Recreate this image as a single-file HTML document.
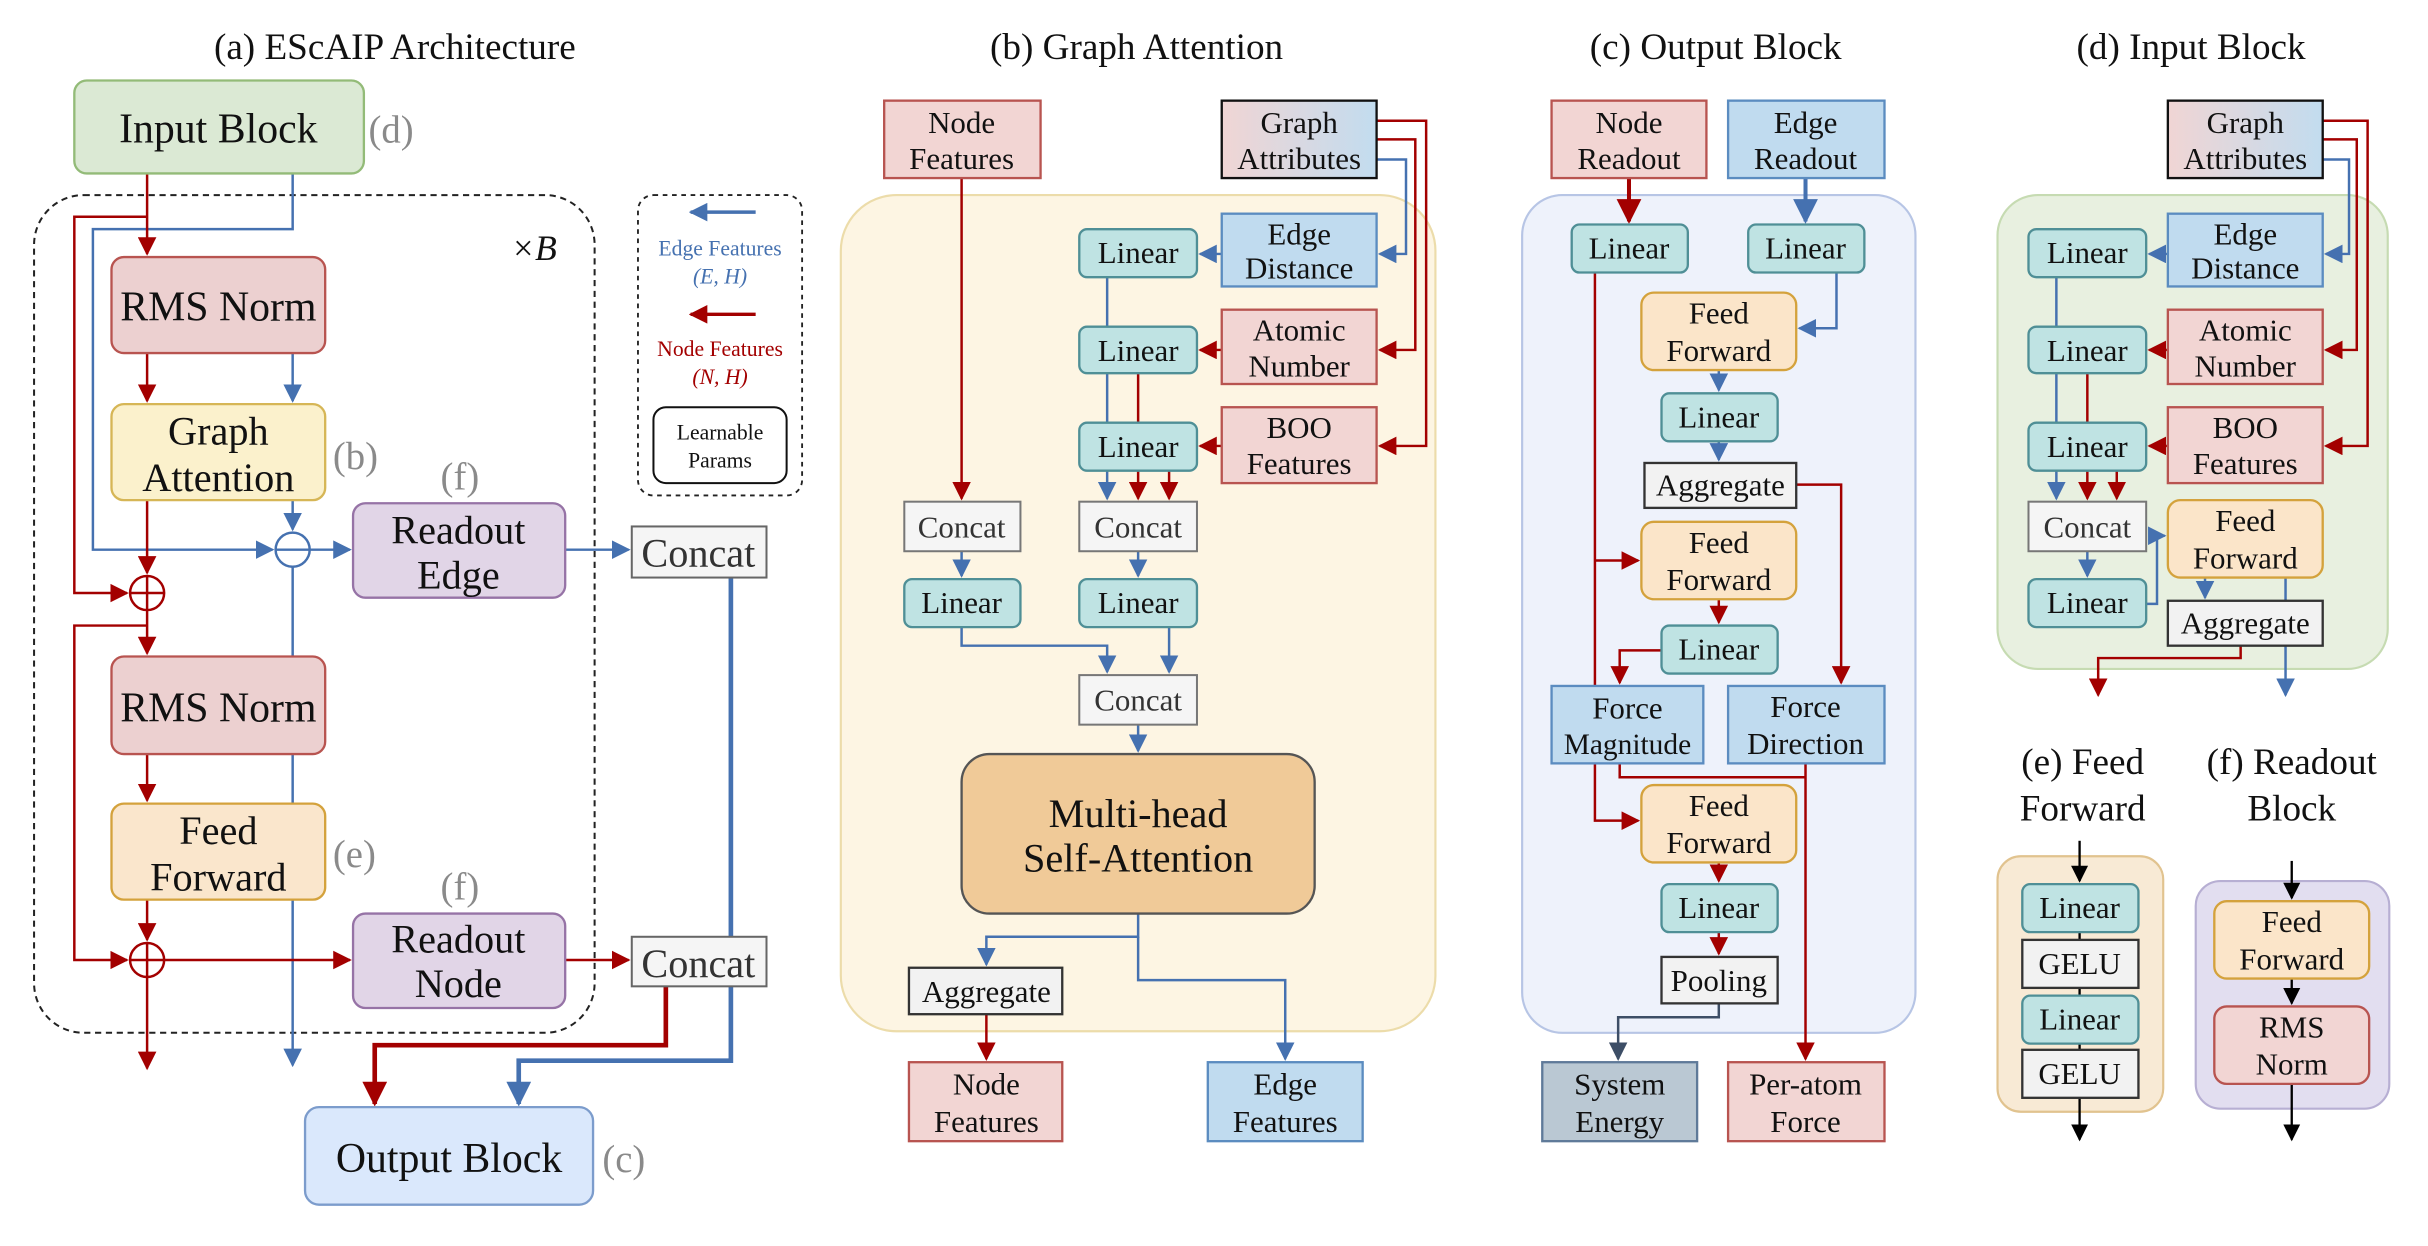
<!DOCTYPE html>
<html><head><meta charset="utf-8"><style>
html,body{margin:0;padding:0;background:#fff;}
svg{display:block;}
text{font-family:"Liberation Serif",serif;fill:#111;}
</style></head><body>
<svg width="2428" height="1246" viewBox="0 0 1568 804.7" preserveAspectRatio="none" xmlns="http://www.w3.org/2000/svg">
<defs>
<marker id="ar" viewBox="0 0 10 10" refX="9" refY="5" markerWidth="12" markerHeight="12" markerUnits="userSpaceOnUse" orient="auto"><path d="M0,0 L10,5 L0,10 z" fill="#a30000"/></marker>
<marker id="ab" viewBox="0 0 10 10" refX="9" refY="5" markerWidth="12" markerHeight="12" markerUnits="userSpaceOnUse" orient="auto"><path d="M0,0 L10,5 L0,10 z" fill="#4571b0"/></marker>
<marker id="ak" viewBox="0 0 10 10" refX="9" refY="5" markerWidth="11" markerHeight="11" markerUnits="userSpaceOnUse" orient="auto"><path d="M0,0 L10,5 L0,10 z" fill="#000"/></marker>
<marker id="ad" viewBox="0 0 10 10" refX="9" refY="5" markerWidth="12" markerHeight="12" markerUnits="userSpaceOnUse" orient="auto"><path d="M0,0 L10,5 L0,10 z" fill="#3d4e66"/></marker>
<marker id="arL" viewBox="0 0 10 10" refX="9" refY="5" markerWidth="16" markerHeight="16" markerUnits="userSpaceOnUse" orient="auto"><path d="M0,0 L10,5 L0,10 z" fill="#a30000"/></marker>
<marker id="abL" viewBox="0 0 10 10" refX="9" refY="5" markerWidth="16" markerHeight="16" markerUnits="userSpaceOnUse" orient="auto"><path d="M0,0 L10,5 L0,10 z" fill="#4571b0"/></marker>
<linearGradient id="ga" x1="0" x2="1"><stop offset="0" stop-color="#f0d5d4"/><stop offset="1" stop-color="#c2dcef"/></linearGradient>
</defs>

<!-- ===== (a) ===== -->
<text x="255" y="38" font-size="24" text-anchor="middle">(a) EScAIP Architecture</text>
<rect x="22" y="126" width="362" height="541" rx="32" fill="none" stroke="#222" stroke-width="1.3" stroke-dasharray="4,3"/>
<text x="330" y="168" font-size="23" font-style="italic">×B</text>

<g fill="none" stroke-width="1.6">
<path d="M189 112 V148 H60 V355 H176" stroke="#4571b0" marker-end="url(#ab)"/>
<path d="M189 228 V259" stroke="#4571b0" marker-end="url(#ab)"/>
<path d="M189 323 V342" stroke="#4571b0" marker-end="url(#ab)"/>
<path d="M189 366 V688" stroke="#4571b0" marker-end="url(#ab)"/>
<path d="M200 355 H226" stroke="#4571b0" marker-end="url(#ab)"/>
<path d="M365 355 H406" stroke="#4571b0" marker-end="url(#ab)"/>
<circle cx="189" cy="355" r="11" stroke="#4571b0"/>
<path d="M178 355 H200" stroke="#4571b0"/>
<path d="M95 112 V164" stroke="#a30000" marker-end="url(#ar)"/>
<path d="M95 140 H48 V383 H82" stroke="#a30000" marker-end="url(#ar)"/>
<path d="M95 228 V259" stroke="#a30000" marker-end="url(#ar)"/>
<path d="M95 323 V370" stroke="#a30000" marker-end="url(#ar)"/>
<circle cx="95" cy="383" r="11" stroke="#a30000"/>
<path d="M95 372 V422" stroke="#a30000" marker-end="url(#ar)"/>
<path d="M95 404 H48 V620 H82" stroke="#a30000" marker-end="url(#ar)"/>
<path d="M95 487 V517" stroke="#a30000" marker-end="url(#ar)"/>
<path d="M95 581 V607" stroke="#a30000" marker-end="url(#ar)"/>
<circle cx="95" cy="620" r="11" stroke="#a30000"/>
<path d="M84 620 H106 M95 609 V690" stroke="#a30000" marker-end="url(#ar)"/>
<path d="M106 620 H226" stroke="#a30000" marker-end="url(#ar)"/>
<path d="M365 620 H406" stroke="#a30000" marker-end="url(#ar)"/>
<path d="M84 383 H106" stroke="#a30000"/>
<path d="M472 373 V685 H335 V713" stroke="#4571b0" stroke-width="3" marker-end="url(#abL)"/>
<path d="M430 637 V675 H242 V713" stroke="#a30000" stroke-width="3" marker-end="url(#arL)"/>
</g>

<rect x="48" y="52" width="187" height="60" rx="8" fill="#dbe9d4" stroke="#93bb78" stroke-width="1.5"/>
<text x="141" y="92" font-size="27" text-anchor="middle">Input Block</text>
<text x="238" y="92" font-size="25" style="fill:#8a8a8a">(d)</text>

<rect x="72" y="166" width="138" height="62" rx="8" fill="#ecd0d0" stroke="#b85450" stroke-width="1.5"/>
<text x="141" y="207" font-size="27" text-anchor="middle">RMS Norm</text>
<rect x="72" y="261" width="138" height="62" rx="8" fill="#fbf1cc" stroke="#d6b656" stroke-width="1.5"/>
<text x="141" y="287" font-size="26" text-anchor="middle">Graph</text>
<text x="141" y="317" font-size="26" text-anchor="middle">Attention</text>
<text x="215" y="303" font-size="25" style="fill:#8a8a8a">(b)</text>

<text x="297" y="316" font-size="25" text-anchor="middle" style="fill:#8a8a8a">(f)</text>
<rect x="228" y="325" width="137" height="61" rx="8" fill="#e1d5e7" stroke="#9673a6" stroke-width="1.5"/>
<text x="296" y="351" font-size="26" text-anchor="middle">Readout</text>
<text x="296" y="380" font-size="26" text-anchor="middle">Edge</text>

<rect x="408" y="340" width="87" height="33" fill="#f5f5f5" stroke="#666" stroke-width="1.3"/>
<text x="451" y="366" font-size="26" text-anchor="middle" style="fill:#333">Concat</text>

<rect x="72" y="424" width="138" height="63" rx="8" fill="#ecd0d0" stroke="#b85450" stroke-width="1.5"/>
<text x="141" y="466" font-size="27" text-anchor="middle">RMS Norm</text>
<rect x="72" y="519" width="138" height="62" rx="8" fill="#fae6cc" stroke="#d4a23c" stroke-width="1.5"/>
<text x="141" y="545" font-size="26" text-anchor="middle">Feed</text>
<text x="141" y="575" font-size="26" text-anchor="middle">Forward</text>
<text x="215" y="560" font-size="25" style="fill:#8a8a8a">(e)</text>

<text x="297" y="581" font-size="25" text-anchor="middle" style="fill:#8a8a8a">(f)</text>
<rect x="228" y="590" width="137" height="61" rx="8" fill="#e1d5e7" stroke="#9673a6" stroke-width="1.5"/>
<text x="296" y="615" font-size="26" text-anchor="middle">Readout</text>
<text x="296" y="644" font-size="26" text-anchor="middle">Node</text>

<rect x="408" y="605" width="87" height="32" fill="#f5f5f5" stroke="#666" stroke-width="1.3"/>
<text x="451" y="631" font-size="26" text-anchor="middle" style="fill:#333">Concat</text>

<rect x="197" y="715" width="186" height="63" rx="9" fill="#dae8fc" stroke="#7c9ccc" stroke-width="1.5"/>
<text x="290" y="757" font-size="27" text-anchor="middle">Output Block</text>
<text x="389" y="757" font-size="25" style="fill:#8a8a8a">(c)</text>

<rect x="412" y="126" width="106" height="194" rx="10" fill="none" stroke="#222" stroke-width="1.2" stroke-dasharray="3,3"/>
<path d="M488 137 H446" stroke="#4571b0" stroke-width="2.2" marker-end="url(#ab)" fill="none"/>
<text x="465" y="165" font-size="14" text-anchor="middle" style="fill:#4571b0">Edge Features</text>
<text x="465" y="183" font-size="14" text-anchor="middle" font-style="italic" style="fill:#4571b0">(E, H)</text>
<path d="M488 203 H446" stroke="#a30000" stroke-width="2.2" marker-end="url(#ar)" fill="none"/>
<text x="465" y="230" font-size="14" text-anchor="middle" style="fill:#a30000">Node Features</text>
<text x="465" y="248" font-size="14" text-anchor="middle" font-style="italic" style="fill:#a30000">(N, H)</text>
<rect x="422" y="263" width="86" height="49" rx="8" fill="#fff" stroke="#111" stroke-width="1.3"/>
<text x="465" y="284" font-size="14" text-anchor="middle">Learnable</text>
<text x="465" y="302" font-size="14" text-anchor="middle">Params</text>

<!-- ===== (b) ===== -->
<text x="734" y="38" font-size="24" text-anchor="middle">(b) Graph Attention</text>
<rect x="543" y="126" width="384" height="540" rx="36" fill="#fdf5e3" stroke="#ecdcaa" stroke-width="1.4"/>
<g fill="none" stroke-width="1.6">
<path d="M889 78 H921 V288 H891" stroke="#a30000" marker-end="url(#ar)"/>
<path d="M889 90 H914 V226 H891" stroke="#a30000" marker-end="url(#ar)"/>
<path d="M889 103 H908 V164 H891" stroke="#4571b0" marker-end="url(#ab)"/>
<path d="M789 164 H775" stroke="#4571b0" marker-end="url(#ab)"/>
<path d="M789 226 H775" stroke="#a30000" marker-end="url(#ar)"/>
<path d="M789 288 H775" stroke="#a30000" marker-end="url(#ar)"/>
<path d="M715 179 V273" stroke="#4571b0"/>
<path d="M735 241 V273" stroke="#a30000"/>
<path d="M715 304 V322" stroke="#4571b0" marker-end="url(#ab)"/>
<path d="M735 304 V322" stroke="#a30000" marker-end="url(#ar)"/>
<path d="M755 304 V322" stroke="#a30000" marker-end="url(#ar)"/>
<path d="M621 115 V322" stroke="#a30000" marker-end="url(#ar)"/>
<path d="M621 356 V372" stroke="#4571b0" marker-end="url(#ab)"/>
<path d="M735 356 V372" stroke="#4571b0" marker-end="url(#ab)"/>
<path d="M621 405 V417 H715 V434" stroke="#4571b0" marker-end="url(#ab)"/>
<path d="M755 405 V434" stroke="#4571b0" marker-end="url(#ab)"/>
<path d="M735 468 V485" stroke="#4571b0" marker-end="url(#ab)"/>
<path d="M735 590 V605 H637 V623" stroke="#4571b0" marker-end="url(#ab)"/>
<path d="M735 605 V633 H830 V684" stroke="#4571b0" marker-end="url(#ab)"/>
<path d="M637 655 V684" stroke="#a30000" marker-end="url(#ar)"/>
</g>
<g font-size="20" text-anchor="middle">
<rect x="571" y="65" width="101" height="50" fill="#f2d5d3" stroke="#b85450" stroke-width="1.5"/>
<text x="621" y="86">Node</text><text x="621" y="109">Features</text>
<rect x="789" y="65" width="100" height="50" fill="url(#ga)" stroke="#111" stroke-width="1.5"/>
<text x="839" y="86">Graph</text><text x="839" y="109">Attributes</text>
<rect x="789" y="138" width="100" height="47" fill="#c0dbef" stroke="#5b8cc0" stroke-width="1.5"/>
<text x="839" y="158">Edge</text><text x="839" y="180">Distance</text>
<rect x="789" y="200" width="100" height="48" fill="#f2d5d3" stroke="#b85450" stroke-width="1.5"/>
<text x="839" y="220">Atomic</text><text x="839" y="243">Number</text>
<rect x="789" y="263" width="100" height="49" fill="#f2d5d3" stroke="#b85450" stroke-width="1.5"/>
<text x="839" y="283">BOO</text><text x="839" y="306">Features</text>
<rect x="697" y="148" width="76" height="31" rx="5" fill="#bfe3e3" stroke="#4f8f96" stroke-width="1.5"/><text x="735" y="170">Linear</text>
<rect x="697" y="211" width="76" height="30" rx="5" fill="#bfe3e3" stroke="#4f8f96" stroke-width="1.5"/><text x="735" y="233">Linear</text>
<rect x="697" y="273" width="76" height="31" rx="5" fill="#bfe3e3" stroke="#4f8f96" stroke-width="1.5"/><text x="735" y="295">Linear</text>
<rect x="584" y="324" width="75" height="32" fill="#f5f5f5" stroke="#777" stroke-width="1.3"/><text x="621" y="347" style="fill:#333">Concat</text>
<rect x="697" y="324" width="76" height="32" fill="#f5f5f5" stroke="#777" stroke-width="1.3"/><text x="735" y="347" style="fill:#333">Concat</text>
<rect x="584" y="374" width="75" height="31" rx="5" fill="#bfe3e3" stroke="#4f8f96" stroke-width="1.5"/><text x="621" y="396">Linear</text>
<rect x="697" y="374" width="76" height="31" rx="5" fill="#bfe3e3" stroke="#4f8f96" stroke-width="1.5"/><text x="735" y="396">Linear</text>
<rect x="697" y="436" width="76" height="32" fill="#f5f5f5" stroke="#777" stroke-width="1.3"/><text x="735" y="459" style="fill:#333">Concat</text>
<rect x="621" y="487" width="228" height="103" rx="18" fill="#f0ca98" stroke="#555" stroke-width="1.5"/>
<text x="735" y="534" font-size="26">Multi-head</text><text x="735" y="563" font-size="26">Self-Attention</text>
<rect x="587" y="625" width="99" height="30" fill="#f2f2f2" stroke="#333" stroke-width="1.5"/><text x="637" y="647">Aggregate</text>
<rect x="587" y="686" width="99" height="51" fill="#f2d5d3" stroke="#b85450" stroke-width="1.5"/>
<text x="637" y="707">Node</text><text x="637" y="731">Features</text>
<rect x="780" y="686" width="100" height="51" fill="#c0dbef" stroke="#5b8cc0" stroke-width="1.5"/>
<text x="830" y="707">Edge</text><text x="830" y="731">Features</text>
</g>

<!-- ===== (c) ===== -->
<text x="1108" y="38" font-size="24" text-anchor="middle">(c) Output Block</text>
<rect x="983" y="126" width="254" height="541" rx="26" fill="#eef2fb" stroke="#b7c5e5" stroke-width="1.4"/>
<g fill="none" stroke-width="1.6">
<path d="M1052 115 V143" stroke="#a30000" stroke-width="2.6" marker-end="url(#arL)"/>
<path d="M1166 115 V143" stroke="#4571b0" stroke-width="2.6" marker-end="url(#abL)"/>
<path d="M1186 176 V212 H1162" stroke="#4571b0" marker-end="url(#ab)"/>
<path d="M1110 239 V252" stroke="#4571b0" marker-end="url(#ab)"/>
<path d="M1110 285 V297" stroke="#4571b0" marker-end="url(#ab)"/>
<path d="M1030 176 V443" stroke="#a30000"/>
<path d="M1030 362 H1058" stroke="#a30000" marker-end="url(#ar)"/>
<path d="M1110 387 V402" stroke="#a30000" marker-end="url(#ar)"/>
<path d="M1073 420 H1046 V441" stroke="#a30000" marker-end="url(#ar)"/>
<path d="M1160 313 H1189 V441" stroke="#a30000" marker-end="url(#ar)"/>
<path d="M1030 493 V530 H1058" stroke="#a30000" marker-end="url(#ar)"/>
<path d="M1046 493 V502 H1166" stroke="#a30000"/>
<path d="M1166 493 V684" stroke="#a30000" marker-end="url(#ar)"/>
<path d="M1110 557 V569" stroke="#a30000" marker-end="url(#ar)"/>
<path d="M1110 602 V616" stroke="#a30000" marker-end="url(#ar)"/>
<path d="M1110 648 V657 H1045 V684" stroke="#3d4e66" marker-end="url(#ad)"/>
</g>
<g font-size="20" text-anchor="middle">
<rect x="1002" y="65" width="100" height="50" fill="#f2d5d3" stroke="#b85450" stroke-width="1.5"/>
<text x="1052" y="86">Node</text><text x="1052" y="109">Readout</text>
<rect x="1116" y="65" width="101" height="50" fill="#c0dbef" stroke="#5b8cc0" stroke-width="1.5"/>
<text x="1166" y="86">Edge</text><text x="1166" y="109">Readout</text>
<rect x="1015" y="145" width="75" height="31" rx="5" fill="#bfe3e3" stroke="#4f8f96" stroke-width="1.5"/><text x="1052" y="167">Linear</text>
<rect x="1129" y="145" width="75" height="31" rx="5" fill="#bfe3e3" stroke="#4f8f96" stroke-width="1.5"/><text x="1166" y="167">Linear</text>
<rect x="1060" y="189" width="100" height="50" rx="8" fill="#fbe5c9" stroke="#d4a23c" stroke-width="1.5"/>
<text x="1110" y="209">Feed</text><text x="1110" y="233">Forward</text>
<rect x="1073" y="254" width="75" height="31" rx="5" fill="#bfe3e3" stroke="#4f8f96" stroke-width="1.5"/><text x="1110" y="276">Linear</text>
<rect x="1062" y="299" width="98" height="29" fill="#f2f2f2" stroke="#333" stroke-width="1.5"/><text x="1111" y="320">Aggregate</text>
<rect x="1060" y="337" width="100" height="50" rx="8" fill="#fbe5c9" stroke="#d4a23c" stroke-width="1.5"/>
<text x="1110" y="357">Feed</text><text x="1110" y="381">Forward</text>
<rect x="1073" y="404" width="75" height="31" rx="5" fill="#bfe3e3" stroke="#4f8f96" stroke-width="1.5"/><text x="1110" y="426">Linear</text>
<rect x="1002" y="443" width="98" height="50" fill="#c0dbef" stroke="#5b8cc0" stroke-width="1.5"/>
<text x="1051" y="464">Force</text><text x="1051" y="487" font-size="19">Magnitude</text>
<rect x="1116" y="443" width="101" height="50" fill="#c0dbef" stroke="#5b8cc0" stroke-width="1.5"/>
<text x="1166" y="463">Force</text><text x="1166" y="487">Direction</text>
<rect x="1060" y="507" width="100" height="50" rx="8" fill="#fbe5c9" stroke="#d4a23c" stroke-width="1.5"/>
<text x="1110" y="527">Feed</text><text x="1110" y="551">Forward</text>
<rect x="1073" y="571" width="75" height="31" rx="5" fill="#bfe3e3" stroke="#4f8f96" stroke-width="1.5"/><text x="1110" y="593">Linear</text>
<rect x="1073" y="618" width="75" height="30" fill="#f2f2f2" stroke="#333" stroke-width="1.5"/><text x="1110" y="640">Pooling</text>
<rect x="996" y="686" width="100" height="51" fill="#bac8d3" stroke="#5f7a99" stroke-width="1.5"/>
<text x="1046" y="707">System</text><text x="1046" y="731">Energy</text>
<rect x="1116" y="686" width="101" height="51" fill="#f2d5d3" stroke="#b85450" stroke-width="1.5"/>
<text x="1166" y="707">Per-atom</text><text x="1166" y="731">Force</text>
</g>

<!-- ===== (d) ===== -->
<text x="1415" y="38" font-size="24" text-anchor="middle">(d) Input Block</text>
<rect x="1290" y="126" width="252" height="306" rx="26" fill="#e8f0e0" stroke="#c6dbb2" stroke-width="1.4"/>
<g fill="none" stroke-width="1.6">
<path d="M1500 78 H1529 V288 H1502" stroke="#a30000" marker-end="url(#ar)"/>
<path d="M1500 90 H1522 V226 H1502" stroke="#a30000" marker-end="url(#ar)"/>
<path d="M1500 103 H1517 V164 H1502" stroke="#4571b0" marker-end="url(#ab)"/>
<path d="M1400 164 H1388" stroke="#4571b0" marker-end="url(#ab)"/>
<path d="M1400 226 H1388" stroke="#a30000" marker-end="url(#ar)"/>
<path d="M1400 288 H1388" stroke="#a30000" marker-end="url(#ar)"/>
<path d="M1328 179 V273" stroke="#4571b0"/>
<path d="M1348 241 V273" stroke="#a30000"/>
<path d="M1328 304 V322" stroke="#4571b0" marker-end="url(#ab)"/>
<path d="M1348 304 V322" stroke="#a30000" marker-end="url(#ar)"/>
<path d="M1367 304 V322" stroke="#a30000" marker-end="url(#ar)"/>
<path d="M1348 356 V372" stroke="#4571b0" marker-end="url(#ab)"/>
<path d="M1386 390 H1393 V346 H1398" stroke="#4571b0" marker-end="url(#ab)"/>
<path d="M1424 373 V386" stroke="#4571b0" marker-end="url(#ab)"/>
<path d="M1476 373 V449" stroke="#4571b0" marker-end="url(#ab)"/>
<path d="M1447 417 V425 H1355 V449" stroke="#a30000" marker-end="url(#ar)"/>
</g>
<g font-size="20" text-anchor="middle">
<rect x="1400" y="65" width="100" height="50" fill="url(#ga)" stroke="#111" stroke-width="1.5"/>
<text x="1450" y="86">Graph</text><text x="1450" y="109">Attributes</text>
<rect x="1400" y="138" width="100" height="47" fill="#c0dbef" stroke="#5b8cc0" stroke-width="1.5"/>
<text x="1450" y="158">Edge</text><text x="1450" y="180">Distance</text>
<rect x="1400" y="200" width="100" height="48" fill="#f2d5d3" stroke="#b85450" stroke-width="1.5"/>
<text x="1450" y="220">Atomic</text><text x="1450" y="243">Number</text>
<rect x="1400" y="263" width="100" height="49" fill="#f2d5d3" stroke="#b85450" stroke-width="1.5"/>
<text x="1450" y="283">BOO</text><text x="1450" y="306">Features</text>
<rect x="1310" y="148" width="76" height="31" rx="5" fill="#bfe3e3" stroke="#4f8f96" stroke-width="1.5"/><text x="1348" y="170">Linear</text>
<rect x="1310" y="211" width="76" height="30" rx="5" fill="#bfe3e3" stroke="#4f8f96" stroke-width="1.5"/><text x="1348" y="233">Linear</text>
<rect x="1310" y="273" width="76" height="31" rx="5" fill="#bfe3e3" stroke="#4f8f96" stroke-width="1.5"/><text x="1348" y="295">Linear</text>
<rect x="1310" y="324" width="76" height="32" fill="#f5f5f5" stroke="#777" stroke-width="1.3"/><text x="1348" y="347" style="fill:#333">Concat</text>
<rect x="1310" y="374" width="76" height="31" rx="5" fill="#bfe3e3" stroke="#4f8f96" stroke-width="1.5"/><text x="1348" y="396">Linear</text>
<rect x="1400" y="323" width="100" height="50" rx="8" fill="#fbe5c9" stroke="#d4a23c" stroke-width="1.5"/>
<text x="1450" y="343">Feed</text><text x="1450" y="367">Forward</text>
<rect x="1400" y="388" width="100" height="29" fill="#f2f2f2" stroke="#333" stroke-width="1.5"/><text x="1450" y="409">Aggregate</text>
</g>

<!-- ===== (e) ===== -->
<text x="1345" y="500" font-size="24" text-anchor="middle">(e) Feed</text>
<text x="1345" y="530" font-size="24" text-anchor="middle">Forward</text>
<rect x="1290" y="553" width="107" height="165" rx="15" fill="#f8ead5" stroke="#e1c38f" stroke-width="1.4"/>
<g fill="none" stroke="#000" stroke-width="1.5">
<path d="M1343 543 V569" marker-end="url(#ak)"/>
<path d="M1343 602 V607 M1343 638 V643 M1343 674 V678"/>
<path d="M1343 709 V736" marker-end="url(#ak)"/>
</g>
<g font-size="20" text-anchor="middle">
<rect x="1306" y="571" width="75" height="31" rx="5" fill="#bfe3e3" stroke="#4f8f96" stroke-width="1.5"/><text x="1343" y="593">Linear</text>
<rect x="1306" y="607" width="75" height="31" fill="#f2f2f2" stroke="#333" stroke-width="1.5"/><text x="1343" y="629">GELU</text>
<rect x="1306" y="643" width="75" height="31" rx="5" fill="#bfe3e3" stroke="#4f8f96" stroke-width="1.5"/><text x="1343" y="665">Linear</text>
<rect x="1306" y="678" width="75" height="31" fill="#f2f2f2" stroke="#333" stroke-width="1.5"/><text x="1343" y="700">GELU</text>
</g>

<!-- ===== (f) ===== -->
<text x="1480" y="500" font-size="24" text-anchor="middle">(f) Readout</text>
<text x="1480" y="530" font-size="24" text-anchor="middle">Block</text>
<rect x="1418" y="569" width="125" height="147" rx="16" fill="#e2def0" stroke="#b7afd3" stroke-width="1.4"/>
<g fill="none" stroke="#000" stroke-width="1.5">
<path d="M1480 556 V580" marker-end="url(#ak)"/>
<path d="M1480 632 V648" marker-end="url(#ak)"/>
<path d="M1480 700 V736" marker-end="url(#ak)"/>
</g>
<g font-size="20" text-anchor="middle">
<rect x="1430" y="582" width="100" height="50" rx="8" fill="#fbe5c9" stroke="#d4a23c" stroke-width="1.5"/>
<text x="1480" y="602">Feed</text><text x="1480" y="626">Forward</text>
<rect x="1430" y="650" width="100" height="50" rx="8" fill="#f2d5d3" stroke="#b85450" stroke-width="1.5"/>
<text x="1480" y="670">RMS</text><text x="1480" y="694">Norm</text>
</g>
</svg>
</body></html>
